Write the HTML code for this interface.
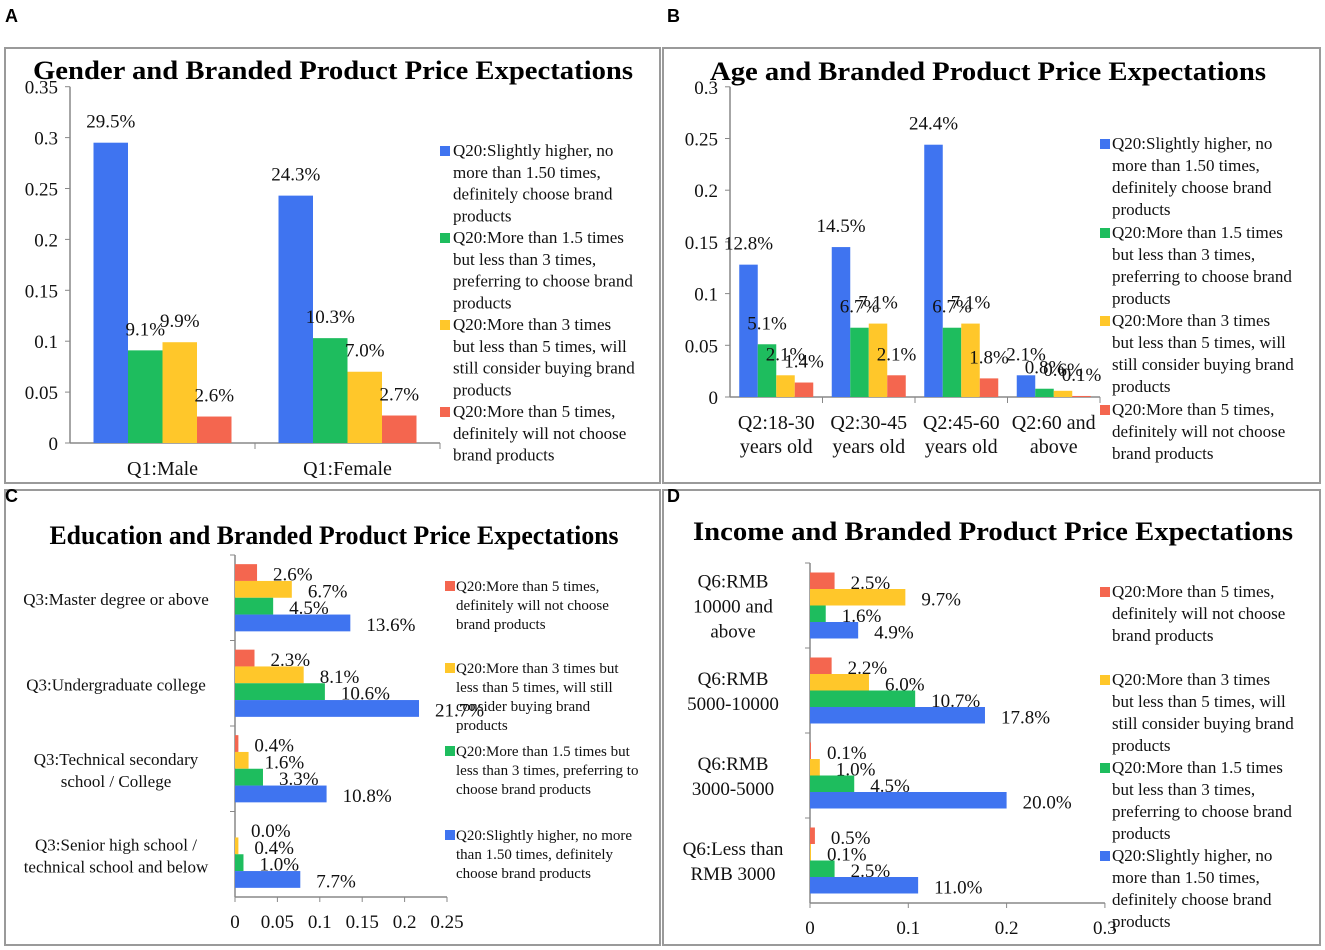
<!DOCTYPE html>
<html><head><meta charset="utf-8"><style>
body{margin:0;background:#fff;}
svg{display:block;font-family:"Liberation Serif",serif;}
</style></head><body>
<svg id="s" width="1325" height="950" viewBox="0 0 1325 950" xmlns="http://www.w3.org/2000/svg">
<rect x="0" y="0" width="1325" height="950" fill="#fff"/>
<g stroke="#9a9a9a" stroke-width="2" fill="none">
<rect x="5" y="48" width="655" height="435"/>
<rect x="663" y="48" width="657" height="435"/>
<rect x="5" y="490" width="655" height="455"/>
<rect x="663" y="490" width="657" height="455"/>
</g>
<g font-family="Liberation Sans, sans-serif" font-weight="bold" font-size="18">
<text x="5" y="22">A</text>
<text x="667" y="22">B</text>
<text x="5" y="502">C</text>
<text x="667" y="502">D</text>
</g>
<g font-weight="bold" font-size="26" text-anchor="middle">
<text x="333" y="79" textLength="600" lengthAdjust="spacingAndGlyphs">Gender and Branded Product Price Expectations</text>
<text x="988" y="80" textLength="556" lengthAdjust="spacingAndGlyphs">Age and Branded Product Price Expectations</text>
<text x="334" y="544" textLength="569" lengthAdjust="spacingAndGlyphs">Education and Branded Product Price Expectations</text>
<text x="993" y="540" textLength="600" lengthAdjust="spacingAndGlyphs">Income and Branded Product Price Expectations</text>
</g>
</svg>
<script>
const COLORS=['#3f74f0','#1ebd5e','#ffc72a','#f4664f'];
// Panel A
const aCategories=['Q1:Male','Q1:Female'];
const aBlue=[0.295,0.243];
const aGreen=[0.091,0.103];
const aYellow=[0.099,0.070];
const aRed=[0.026,0.027];
const aTicks=[0,0.05,0.1,0.15,0.2,0.25,0.3,0.35];
// Panel B
const bCategories=[['Q2:18-30','years old'],['Q2:30-45','years old'],['Q2:45-60','years old'],['Q2:60 and','above']];
const bBlue=[0.128,0.145,0.244,0.021];
const bGreen=[0.051,0.067,0.067,0.008];
const bYellow=[0.021,0.071,0.071,0.006];
const bRed=[0.014,0.021,0.018,0.001];
const bTicks=[0,0.05,0.1,0.15,0.2,0.25,0.3];
// Panel C (order per category: red, yellow, green, blue top->bottom)
const cCategories=[['Q3:Master degree or above'],['Q3:Undergraduate college'],['Q3:Technical secondary','school / College'],['Q3:Senior high school /','technical school and below']];
const cRed=[0.026,0.023,0.004,0.000];
const cYellow=[0.067,0.081,0.016,0.004];
const cGreen=[0.045,0.106,0.033,0.010];
const cBlue=[0.136,0.217,0.108,0.077];
const cTicks=[0,0.05,0.1,0.15,0.2,0.25];
// Panel D
const dCategories=[['Q6:RMB','10000 and','above'],['Q6:RMB','5000-10000'],['Q6:RMB','3000-5000'],['Q6:Less than','RMB 3000']];
const dRed=[0.025,0.022,0.001,0.005];
const dYellow=[0.097,0.060,0.010,0.001];
const dGreen=[0.016,0.107,0.045,0.025];
const dBlue=[0.049,0.178,0.200,0.110];
const dTicks=[0,0.1,0.2,0.3];

const L1=['Q20:Slightly higher, no','more than 1.50 times,','definitely choose brand','products'];
const L2=['Q20:More than 1.5 times','but less than 3 times,','preferring to choose brand','products'];
const L3=['Q20:More than 3 times','but less than 5 times, will','still consider buying brand','products'];
const L4=['Q20:More than 5 times,','definitely will not choose','brand products'];

const svg=document.getElementById('s');
const NS='http://www.w3.org/2000/svg';
function el(tag,attrs,parent){const e=document.createElementNS(NS,tag);for(const k in attrs)e.setAttribute(k,attrs[k]);(parent||svg).appendChild(e);return e;}
function txt(x,y,s,size,anchor){const t=el('text',{x:x,y:y,'font-size':size,'text-anchor':anchor||'start',fill:'#111'});t.textContent=s;return t;}
function pct(v){return (v*100).toFixed(1)+'%';}
function fmt(v){return v===0?'0':String(v);}

function vChart(p,series,cats,ticks){
  const ys=v=>p.y0-v*p.scale;
  el('line',{x1:p.x0,y1:p.y0,x2:p.x1,y2:p.y0,stroke:'#888','stroke-width':1.5});
  el('line',{x1:p.x0,y1:p.y0,x2:p.x0,y2:ys(ticks[ticks.length-1]),stroke:'#888','stroke-width':1.5});
  ticks.forEach(t=>{const tk=txt(p.x0-12,ys(t)+7,fmt(t),19,'end');
    el('line',{x1:p.x0-5,y1:ys(t),x2:p.x0,y2:ys(t),stroke:'#888'});});
  const cw=(p.x1-p.x0)/cats.length;
  cats.forEach((c,i)=>{
    el('line',{x1:p.x0+cw*(i+1),y1:p.y0,x2:p.x0+cw*(i+1),y2:p.y0+6,stroke:'#888'});
    const cx=p.x0+cw*(i+0.5);
    const lines=Array.isArray(c)?c:[c];
    lines.forEach((l,j)=>{const t=txt(cx,p.y0+32+j*24,l,20,'middle');});
    const gw=p.bw*series.length;const start=cx-gw/2;
    series.forEach((s,k)=>{
      const v=s[i];const x=start+k*p.bw;
      const r=el('rect',{x:x,y:ys(v),width:p.bw,height:v*p.scale,fill:COLORS[k]});
      
      
      const t=txt(x+p.bw/2,ys(v)-15,pct(v),19,'middle');
      
      
    });
  });
}
function hChart(p,series,cols,cats,ticks){
  const xs=v=>p.x0+v*p.scale;
  el('line',{x1:p.x0,y1:p.yTop,x2:p.x0,y2:p.yBot,stroke:'#888','stroke-width':1.5});
  el('line',{x1:p.x0,y1:p.yBot,x2:xs(ticks[ticks.length-1]),y2:p.yBot,stroke:'#888','stroke-width':1.5});
  ticks.forEach(t=>{const tk=txt(xs(t),p.yBot+31,fmt(t),19,'middle');
    el('line',{x1:xs(t),y1:p.yBot,x2:xs(t),y2:p.yBot+5,stroke:'#888'});});
  const ch=(p.yBot-p.yTop)/cats.length;
  cats.forEach((c,i)=>{
    const cy=p.yTop+ch*(i+0.5);
    el('line',{x1:p.x0-5,y1:p.yTop+ch*i,x2:p.x0,y2:p.yTop+ch*i,stroke:'#888'});
    c.forEach((l,j)=>{const t=txt(p.lx,cy+7+(j-(c.length-1)/2)*p.lh,l,p.lfs,'middle');});
    const gh=p.bh*series.length;const start=cy-gh/2;
    series.forEach((s,k)=>{
      const v=s[i];const y=start+k*p.bh;
      const r=el('rect',{x:p.x0,y:y,width:v*p.scale,height:p.bh,fill:cols[k]});
      
      
      const t=txt(xs(v)+16,y+p.bh/2+8,pct(v),19,'start');
      
      
    });
  });
}
function legend(x,tx,starts,entries,cols,lh,fs){
  entries.forEach((e,i)=>{
    const g=el('g',{});
    
    
    el('rect',{x:x,y:starts[i]-10,width:10,height:10,fill:cols[i]},g);
    e.forEach((l,j)=>{const t=el('text',{x:tx,y:starts[i]+j*lh,'font-size':fs,fill:'#111'},g);t.textContent=l;});
  });
}
vChart({x0:70,x1:440,y0:443,scale:1018,bw:34.5},[aBlue,aGreen,aYellow,aRed],aCategories,aTicks);
legend(440,453,[156,243,330,417],[L1,L2,L3,L4],COLORS,21.8,17);
vChart({x0:730,x1:1100,y0:397,scale:1034,bw:18.5},[bBlue,bGreen,bYellow,bRed],bCategories,bTicks);
legend(1100,1112,[149,238,326,415],[L1,L2,L3,L4],COLORS,22,17);
const revCols=[COLORS[3],COLORS[2],COLORS[1],COLORS[0]];
hChart({x0:235,yTop:555,yBot:897,scale:848,bh:16.8,lx:116,lh:22,lfs:17},[cRed,cYellow,cGreen,cBlue],revCols,cCategories,cTicks);
legend(445,456,[591,673,756,840],[
 ['Q20:More than 5 times,','definitely will not choose','brand products'],
 ['Q20:More than 3 times but','less than 5 times, will still','consider buying brand','products'],
 ['Q20:More than 1.5 times but','less than 3 times, preferring to','choose brand products'],
 ['Q20:Slightly higher, no more','than 1.50 times, definitely','choose brand products']],revCols,19,15);
hChart({x0:810,yTop:563,yBot:903,scale:983,bh:16.5,lx:733,lh:25,lfs:19},[dRed,dYellow,dGreen,dBlue],revCols,dCategories,dTicks);
legend(1100,1112,[597,685,773,861],[L4,L3,L2,L1],revCols,22,17);
</script>
</body></html>
